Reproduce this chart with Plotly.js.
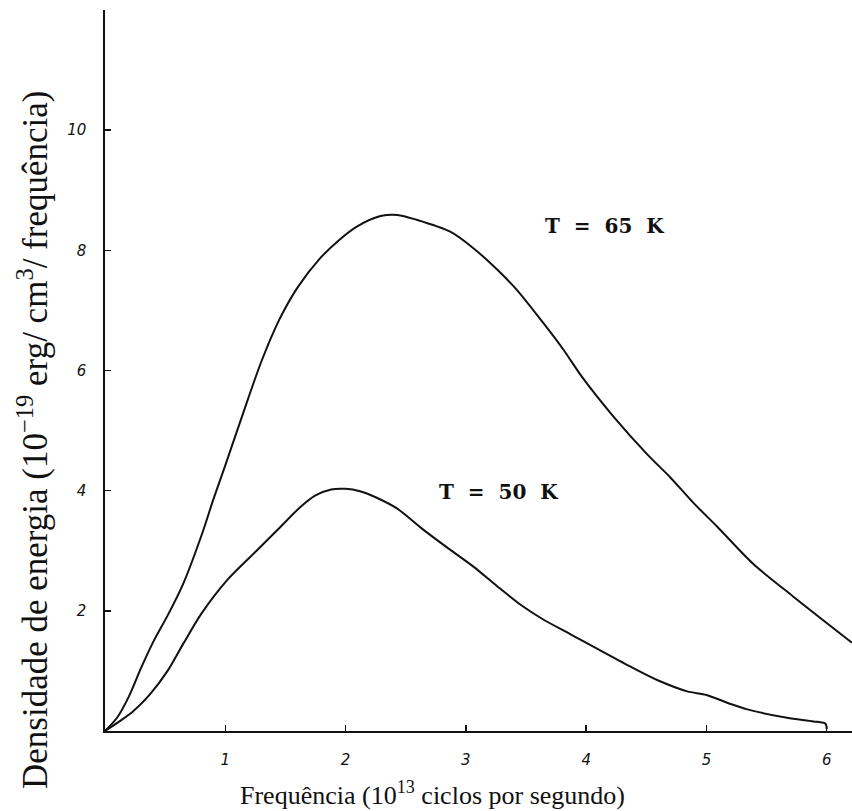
<!DOCTYPE html>
<html>
<head>
<meta charset="utf-8">
<script src="https://cdn.plot.ly/plotly-3.0.1.min.js"></script>
<style>html,body{margin:0;padding:0;background:#fff;}#chart{width:852px;height:811px;}</style>
</head>
<body>
<div id="chart"></div>
<script>
// Frequency (10^13 cycles per second) and energy density (10^-19 erg/cm^3/frequency)
const freq65 = [0, 0.10, 0.20, 0.30, 0.40, 0.52, 0.65, 0.81, 0.90, 1.00, 1.15, 1.30, 1.45, 1.60, 1.78, 1.94, 2.09, 2.29, 2.43, 2.59, 2.87, 3.06, 3.26, 3.42, 3.64, 3.81, 3.97, 4.22, 4.51, 4.70, 4.89, 5.09, 5.39, 5.72, 6.21];
const energy65 = [0, 0.22, 0.58, 1.05, 1.48, 1.92, 2.45, 3.30, 3.85, 4.42, 5.30, 6.15, 6.85, 7.38, 7.85, 8.16, 8.39, 8.57, 8.59, 8.51, 8.31, 8.04, 7.68, 7.35, 6.80, 6.35, 5.88, 5.25, 4.60, 4.22, 3.80, 3.40, 2.78, 2.24, 1.47];

const freq50 = [0, 0.12, 0.23, 0.37, 0.52, 0.65, 0.80, 1.01, 1.26, 1.45, 1.62, 1.75, 1.88, 2.00, 2.12, 2.25, 2.43, 2.64, 2.84, 3.06, 3.26, 3.47, 3.64, 3.87, 4.09, 4.36, 4.60, 4.84, 5.00, 5.20, 5.34, 5.67, 5.89, 5.99, 6.00];
const energy50 = [0, 0.16, 0.32, 0.60, 1.00, 1.45, 1.95, 2.50, 3.00, 3.38, 3.72, 3.92, 4.02, 4.03, 3.99, 3.89, 3.70, 3.36, 3.06, 2.74, 2.41, 2.08, 1.86, 1.61, 1.37, 1.08, 0.84, 0.66, 0.60, 0.45, 0.36, 0.22, 0.16, 0.12, 0.03];

const xTickVals = [1, 2, 3, 4, 5, 6];
const xTickText = ['1', '2', '3', '4', '5', '6'];
const yTickVals = [2, 4, 6, 8, 10];
const yTickText = ['2', '4', '6', '8', '10'];

const curveLabels = ['T\u00a0\u00a0=\u00a0\u00a065\u00a0\u00a0K', 'T\u00a0\u00a0=\u00a0\u00a050\u00a0\u00a0K'];
const xTitle = 'Frequência (10<sup>13</sup> ciclos por segundo)';
const yTitle = 'Densidade de energia (10<sup>−19</sup> erg/ cm<sup>3</sup>/ frequência)';

const lineStyle = {color: '#111', width: 2, shape: 'spline', smoothing: 0.8};

const traces = [
  {x: freq65, y: energy65, type: 'scatter', mode: 'lines', line: lineStyle, hoverinfo: 'skip', showlegend: false},
  {x: freq50, y: energy50, type: 'scatter', mode: 'lines', line: lineStyle, hoverinfo: 'skip', showlegend: false}
];

const tickFont = {family: 'DejaVu Sans', size: 15, color: '#111', style: 'italic'};
const labelFont = {family: 'DejaVu Serif', size: 20, color: '#111', weight: 'bold'};

const layout = {
  width: 852, height: 811,
  margin: {l: 105, r: 0, t: 10, b: 80, pad: 0},
  paper_bgcolor: '#fff', plot_bgcolor: '#fff',
  showlegend: false,
  xaxis: {
    range: [0, 6.21], showgrid: false, zeroline: false,
    showline: true, linecolor: '#111', linewidth: 1.6,
    ticks: 'inside', ticklen: 6, tickwidth: 1.5, tickcolor: '#111',
    tickvals: xTickVals, ticktext: xTickText, tickfont: tickFont,
    ticklabelstandoff: 14,
    automargin: false, fixedrange: true
  },
  yaxis: {
    range: [0, 12], showgrid: false, zeroline: false,
    showline: true, linecolor: '#111', linewidth: 1.6,
    ticks: 'inside', ticklen: 6, tickwidth: 1.5, tickcolor: '#111',
    tickvals: yTickVals, ticktext: yTickText, tickfont: tickFont,
    ticklabelstandoff: 14,
    automargin: false, fixedrange: true
  },
  annotations: [
    {x: 4.15, y: 8.41, xref: 'x', yref: 'y', text: curveLabels[0], showarrow: false, font: labelFont},
    {x: 3.27, y: 3.98, xref: 'x', yref: 'y', text: curveLabels[1], showarrow: false, font: labelFont},
    {x: 0.438, y: -0.086, xref: 'paper', yref: 'paper', xanchor: 'center', yanchor: 'middle',
     text: xTitle, showarrow: false, font: {family: 'Liberation Serif', size: 26, color: '#111'}},
    {x: -0.096, y: 0.404, xref: 'paper', yref: 'paper', xanchor: 'center', yanchor: 'middle', textangle: -90,
     text: yTitle, showarrow: false, font: {family: 'Liberation Serif', size: 35, color: '#111'}}
  ]
};

Plotly.newPlot('chart', traces, layout, {staticPlot: true, displayModeBar: false});
</script>
</body>
</html>
